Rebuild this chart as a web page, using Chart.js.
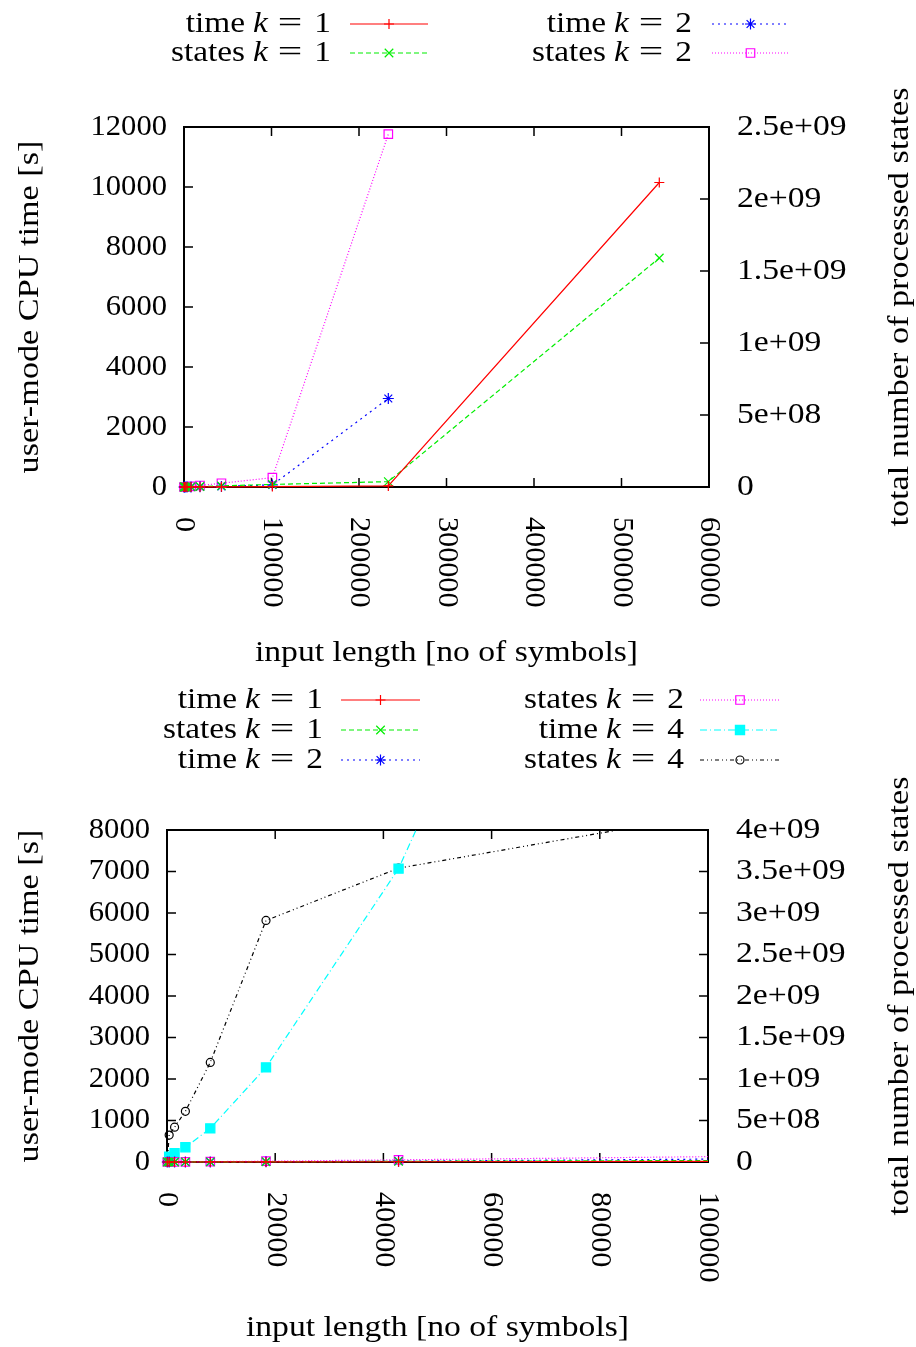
<!DOCTYPE html>
<html><head><meta charset="utf-8">
<script src="https://cdn.jsdelivr.net/npm/chart.js@4/dist/chart.umd.min.js"></script>
<style>html,body{margin:0;padding:0;background:#fff}canvas{display:block}</style>
</head><body>
<canvas id="c1" width="916" height="670"></canvas>
<canvas id="c2" width="916" height="677"></canvas>
<script>
// ---------------- data ----------------
const inputLength = [50, 400, 1400, 3400, 8000, 18300, 42800, 101000, 233500, 543200];
const timeK1   = [0.01, 0.05, 0.2, 0.5, 1.2, 2.8, 6.5, 15, 35, 10150];
const statesK1 = [1e4, 7e4, 2.5e5, 6e5, 1.4e6, 3.2e6, 7.5e6, 1.8e7, 3.7e7, 1.59e9];
const timeK2   = [0.02, 0.1, 0.4, 1, 2.5, 7, 20, 70, 2950, null];
const statesK2 = [3e4, 2.2e5, 8e5, 1.9e6, 4.5e6, 1.05e7, 2.6e7, 6.5e7, 2.45e9, null];
const timeK4   = [null, 130, 210, 355, 810, 2280, 7070, 23800, null, null];
const statesK4 = [0, 3.25e8, 4.2e8, 6.1e8, 1.2e9, 2.91e9, 3.54e9, 4.2e9, null, null];

const seriesLabels = ['time k = 1', 'states k = 1', 'time k = 2', 'states k = 2', 'time k = 4', 'states k = 4'];

const top_xTicks = [0, 100000, 200000, 300000, 400000, 500000, 600000];
const top_xLabels = ['0', '100000', '200000', '300000', '400000', '500000', '600000'];
const top_yTicks = [0, 2000, 4000, 6000, 8000, 10000, 12000];
const top_yLabels = ['0', '2000', '4000', '6000', '8000', '10000', '12000'];
const top_y2Ticks = [0, 5e8, 1e9, 1.5e9, 2e9, 2.5e9];
const top_y2Labels = ['0', '5e+08', '1e+09', '1.5e+09', '2e+09', '2.5e+09'];

const bot_xTicks = [0, 20000, 40000, 60000, 80000, 100000];
const bot_xLabels = ['0', '20000', '40000', '60000', '80000', '100000'];
const bot_yTicks = [0, 1000, 2000, 3000, 4000, 5000, 6000, 7000, 8000];
const bot_yLabels = ['0', '1000', '2000', '3000', '4000', '5000', '6000', '7000', '8000'];
const bot_y2Ticks = [0, 5e8, 1e9, 1.5e9, 2e9, 2.5e9, 3e9, 3.5e9, 4e9];
const bot_y2Labels = ['0', '5e+08', '1e+09', '1.5e+09', '2e+09', '2.5e+09', '3e+09', '3.5e+09', '4e+09'];

const xTitle = 'input length [no of symbols]';
const yTitle = 'user-mode CPU time [s]';
const y2Title = 'total number of processed states';

// ---------------- styles ----------------
const FONT = '"Liberation Serif", "DejaVu Serif", serif';
const FS = 29;
const NF = FS + 'px ' + FONT;
const ITF = 'italic ' + FS + 'px ' + FONT;
const styles = [
  {color: '#ff0000', dash: [], pointStyle: 'cross', r: 5, fill: 'rgba(0,0,0,0)', axis: 'y'},
  {color: '#00ee00', dash: [5, 3], pointStyle: 'crossRot', r: 6, fill: 'rgba(0,0,0,0)', axis: 'y2'},
  {color: '#0000ff', dash: [2, 4], pointStyle: 'star', r: 5.5, fill: 'rgba(0,0,0,0)', axis: 'y'},
  {color: '#ff00ff', dash: [1, 2], pointStyle: 'rect', r: 6, fill: 'rgba(0,0,0,0)', axis: 'y2'},
  {color: '#00ffff', dash: [7, 3, 1, 3], pointStyle: 'rect', r: 6.5, fill: '#00ffff', axis: 'y'},
  {color: '#000000', dash: [4, 3, 1, 3, 1, 3], pointStyle: 'circle', r: 4, fill: 'rgba(0,0,0,0)', axis: 'y2'}
];
const seriesValues = [timeK1, statesK1, timeK2, statesK2, timeK4, statesK4];

function pts(vals) {
  const out = [];
  inputLength.forEach((x, i) => { if (vals[i] !== null && vals[i] !== undefined) out.push({x: x, y: vals[i]}); });
  return out;
}

function makeDataset(i, clip) {
  const s = styles[i];
  return {
    label: seriesLabels[i], data: pts(seriesValues[i]), yAxisID: s.axis,
    borderColor: s.color, backgroundColor: s.fill, borderWidth: 1.2, borderDash: s.dash,
    pointStyle: s.pointStyle, pointRadius: s.r, pointBorderWidth: 1.2,
    pointBorderColor: s.color, pointBackgroundColor: s.fill,
    fill: false, tension: 0, clip: clip
  };
}

// text drawn with a horizontal stretch (reading direction) to mimic Computer Modern widths
function sText(ctx, text, x, y, align, sx) {
  const w = ctx.measureText(text).width * sx;
  const x0 = align === 'center' ? x - w / 2 : (align === 'right' ? x - w : x);
  ctx.save(); ctx.translate(x0, y); ctx.scale(sx, 1); ctx.textAlign = 'left'; ctx.fillText(text, 0, 0); ctx.restore();
  return w;
}

function drawLabelText(ctx, label, right, y) {
  const idx = label.indexOf(' k ');
  const pre = label.slice(0, idx);
  const num = label.slice(idx + 5);
  const SX = 1.15, SEQ = 1.5;
  ctx.textBaseline = 'middle';
  ctx.font = NF;
  const wPre = ctx.measureText(pre).width * SX;
  const wEq = ctx.measureText('=').width * SEQ;
  const wNum = ctx.measureText(num).width * SX;
  ctx.font = ITF;
  const wK = ctx.measureText('k').width * SX;
  const sp1 = 8, sp2 = 10, sp3 = 12;
  let x = right - (wPre + sp1 + wK + sp2 + wEq + sp3 + wNum);
  ctx.font = NF; sText(ctx, pre, x, y, 'left', SX); x += wPre + sp1;
  ctx.font = ITF; sText(ctx, 'k', x, y, 'left', SX); x += wK + sp2;
  ctx.font = NF; sText(ctx, '=', x, y, 'left', SEQ); x += wEq + sp3;
  sText(ctx, num, x, y, 'left', SX);
}

function drawLegendSample(ctx, i, x0, x1, y) {
  const s = styles[i];
  ctx.save();
  ctx.strokeStyle = s.color; ctx.lineWidth = 1.2; ctx.setLineDash(s.dash);
  ctx.beginPath(); ctx.moveTo(x0, y); ctx.lineTo(x1, y); ctx.stroke();
  ctx.setLineDash([]);
  ctx.fillStyle = s.fill; ctx.strokeStyle = s.color; ctx.lineWidth = 1.2;
  Chart.helpers.drawPoint(ctx, {pointStyle: s.pointStyle, radius: s.r, rotation: 0, borderWidth: 1.2}, (x0 + x1) / 2, y);
  ctx.restore();
}

function makeDecor(spec) {
  return {
    id: 'decor',
    beforeDatasetsDraw(chart) {
      const {ctx, chartArea: a, scales} = chart;
      ctx.save();
      ctx.strokeStyle = '#000'; ctx.lineWidth = 1.5;
      const L = 9;
      ctx.beginPath();
      spec.xTicks.forEach(v => { const p = scales.x.getPixelForValue(v);
        ctx.moveTo(p, a.bottom); ctx.lineTo(p, a.bottom - L); ctx.moveTo(p, a.top); ctx.lineTo(p, a.top + L); });
      spec.yTicks.forEach(v => { const p = scales.y.getPixelForValue(v); ctx.moveTo(a.left, p); ctx.lineTo(a.left + L, p); });
      spec.y2Ticks.forEach(v => { const p = scales.y2.getPixelForValue(v); ctx.moveTo(a.right, p); ctx.lineTo(a.right - L, p); });
      ctx.stroke();
      ctx.lineWidth = 2;
      ctx.strokeRect(a.left, a.top, a.right - a.left, a.bottom - a.top);
      ctx.restore();
    },
    afterDraw(chart) {
      const {ctx, chartArea: a, scales} = chart;
      ctx.save();
      ctx.fillStyle = '#000';
      ctx.font = NF;
      ctx.textBaseline = 'middle';
      spec.yTicks.forEach((v, i) => sText(ctx, spec.yLabels[i], a.left - 17, scales.y.getPixelForValue(v), 'right', 1.055));
      spec.y2Ticks.forEach((v, i) => sText(ctx, spec.y2Labels[i], a.right + 28, scales.y2.getPixelForValue(v), 'left', 1.16));
      spec.xTicks.forEach((v, i) => {
        ctx.save(); ctx.translate(scales.x.getPixelForValue(v), a.bottom + 30); ctx.rotate(Math.PI / 2);
        ctx.textBaseline = 'middle'; sText(ctx, spec.xLabels[i], 0, 0, 'left', 1.04); ctx.restore();
      });
      ctx.textBaseline = 'middle';
      sText(ctx, xTitle, (a.left + a.right) / 2, spec.xTitleY, 'center', 1.16);
      ctx.save(); ctx.translate(30, (a.top + a.bottom) / 2); ctx.rotate(-Math.PI / 2); sText(ctx, yTitle, 0, 0, 'center', 1.18); ctx.restore();
      ctx.save(); ctx.translate(900, (a.top + a.bottom) / 2); ctx.rotate(-Math.PI / 2); sText(ctx, y2Title, 0, 0, 'center', 1.18); ctx.restore();
      spec.legend.forEach(e => {
        drawLabelText(ctx, seriesLabels[e.i], e.tr, e.y);
        drawLegendSample(ctx, e.i, e.l0, e.l1, e.y);
      });
      ctx.restore();
    }
  };
}

function makeChart(id, idxs, padding, xr, yr, y2r, clip, spec) {
  return new Chart(document.getElementById(id), {
    type: 'line',
    data: {datasets: idxs.map(i => makeDataset(i, clip))},
    options: {
      responsive: false, animation: false, devicePixelRatio: 1, events: [],
      layout: {padding: padding},
      plugins: {legend: {display: false}, tooltip: {enabled: false}},
      scales: {
        x: {type: 'linear', display: false, min: xr[0], max: xr[1]},
        y: {type: 'linear', display: false, min: yr[0], max: yr[1]},
        y2: {type: 'linear', display: false, position: 'right', min: y2r[0], max: y2r[1]}
      }
    },
    plugins: [makeDecor(spec)]
  });
}

makeChart('c1', [0, 1, 2, 3], {left: 184, right: 207, top: 127, bottom: 183},
  [0, 600000], [0, 12000], [0, 2.5e9], {left: 12, right: 12, top: 12, bottom: 12},
  {xTicks: top_xTicks, xLabels: top_xLabels, yTicks: top_yTicks, yLabels: top_yLabels,
   y2Ticks: top_y2Ticks, y2Labels: top_y2Labels, xTitleY: 653,
   legend: [
     {i: 0, tr: 331, l0: 350, l1: 428, y: 24},
     {i: 1, tr: 331, l0: 350, l1: 428, y: 53},
     {i: 2, tr: 692, l0: 712, l1: 789, y: 24},
     {i: 3, tr: 692, l0: 712, l1: 789, y: 53}
   ]});

makeChart('c2', [0, 1, 2, 3, 4, 5], {left: 167, right: 208, top: 160, bottom: 185},
  [0, 100000], [0, 8000], [0, 4e9], {left: 12, right: 0, top: 0, bottom: 12},
  {xTicks: bot_xTicks, xLabels: bot_xLabels, yTicks: bot_yTicks, yLabels: bot_yLabels,
   y2Ticks: bot_y2Ticks, y2Labels: bot_y2Labels, xTitleY: 658,
   legend: [
     {i: 0, tr: 323, l0: 341, l1: 420, y: 30},
     {i: 1, tr: 323, l0: 341, l1: 420, y: 60},
     {i: 2, tr: 323, l0: 341, l1: 420, y: 90},
     {i: 3, tr: 684, l0: 700, l1: 780, y: 30},
     {i: 4, tr: 684, l0: 700, l1: 780, y: 60},
     {i: 5, tr: 684, l0: 700, l1: 780, y: 90}
   ]});
</script>
</body></html>
